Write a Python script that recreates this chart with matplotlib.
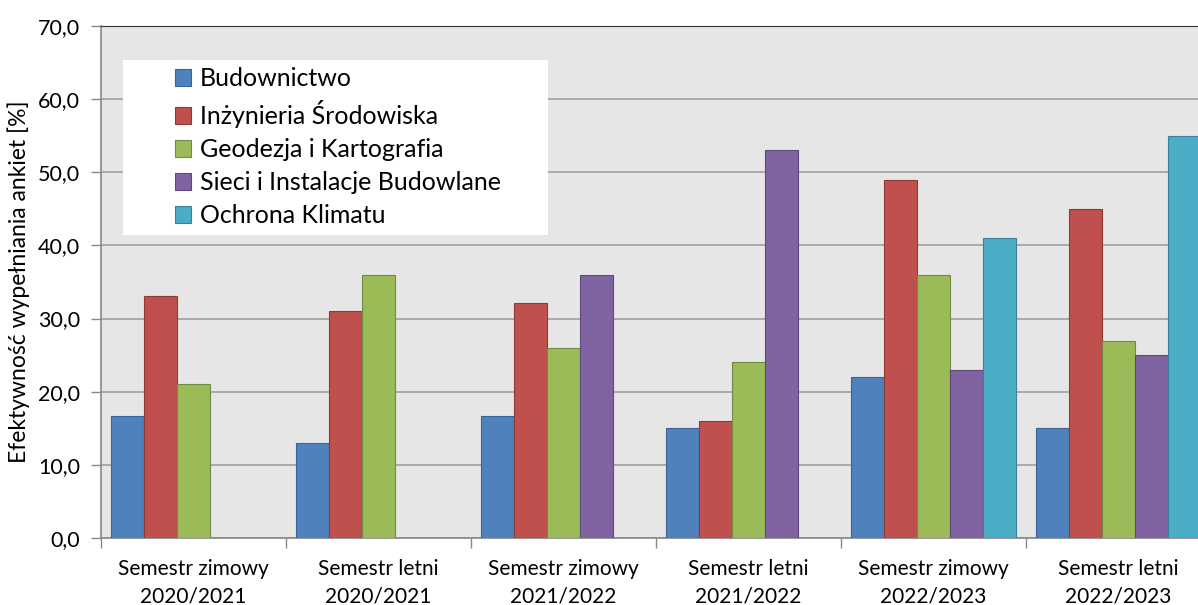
import numpy as np
import matplotlib.pyplot as plt
from matplotlib.patches import Rectangle
from matplotlib.ticker import FuncFormatter

plt.rcParams['font.family'] = ['Lato', 'DejaVu Sans']

# Data
categories = ["Semestr zimowy\n2020/2021", "Semestr letni\n2020/2021",
              "Semestr zimowy\n2021/2022", "Semestr letni\n2021/2022",
              "Semestr zimowy\n2022/2023", "Semestr letni\n2022/2023"]
series = ["Budownictwo", "Inżynieria Środowiska", "Geodezja i Kartografia",
          "Sieci i Instalacje Budowlane", "Ochrona Klimatu"]
budownictwo = [16.7, 13.0, 16.7, 15.0, 22.0, 15.0]
inzynieria = [33.1, 31.1, 32.1, 16.0, 49.0, 45.0]
geodezja = [21.0, 36.0, 26.0, 24.0, 36.0, 27.0]
sieci = [np.nan, np.nan, 36.0, 53.0, 23.0, 25.0]
ochrona = [np.nan, np.nan, np.nan, np.nan, 41.0, 55.0]
values = [budownictwo, inzynieria, geodezja, sieci, ochrona]

colors = ["#4F81BD", "#C0504D", "#9BBB59", "#8064A2", "#4BACC6"]
edges = ["#3A6496", "#8E3A38", "#728B42", "#5E4A78", "#37819A"]

fig = plt.figure(figsize=(11.98, 6.05), dpi=100)
ax = fig.add_axes([101 / 1198, 67 / 605, 1110 / 1198, 512 / 605])
ax.set_facecolor("#E6E6E6")

x = np.arange(len(categories))
w = 0.178
for i, (name, vals) in enumerate(zip(series, values)):
    ax.bar(x + (i - 2) * w, vals, w, color=colors[i], edgecolor=edges[i],
           linewidth=0.8, label=name, zorder=3)

ax.set_xlim(-0.5, len(categories) - 0.5)
ax.set_ylim(0, 70)
ax.set_yticks(np.arange(0, 71, 10))
ax.yaxis.set_major_formatter(FuncFormatter(lambda v, p: f"{v:.1f}".replace(".", ",")))
ax.grid(axis="y", color="#A0A0A0", linewidth=1.2, zorder=1)

ax.set_xticks(x)
ax.set_xticklabels(categories, fontsize=15, linespacing=1.5)
ax.set_xticks(np.arange(-0.5, len(categories), 1), minor=True)
ax.tick_params(axis="x", which="major", length=0, pad=15)
ax.tick_params(axis="x", which="minor", length=7, color="#888888", width=1)
ax.tick_params(axis="y", length=7, color="#888888", width=1, labelsize=15.5, pad=8)

for s in ["left", "bottom"]:
    ax.spines[s].set_color("#888888")
    ax.spines[s].set_linewidth(1.2)
ax.spines["top"].set_color("#333333")
ax.spines["right"].set_visible(False)

ax.set_ylabel("Efektywność wypełniania ankiet [%]", fontsize=16.5, labelpad=6)

# legend box
ax.add_patch(Rectangle((22 / 1110, 303 / 512), 425 / 1110, 175 / 512,
                       transform=ax.transAxes, facecolor="white",
                       edgecolor="none", zorder=4))
leg = ax.legend(loc="upper left", bbox_to_anchor=(74 / 1110, 471 / 512),
                frameon=False, fontsize=18, handlelength=0.65, handleheight=0.65,
                handletextpad=0.36, labelspacing=0.4, borderaxespad=0,
                borderpad=0)
leg.set_zorder(5)

fig.savefig("out.png", dpi=100)
